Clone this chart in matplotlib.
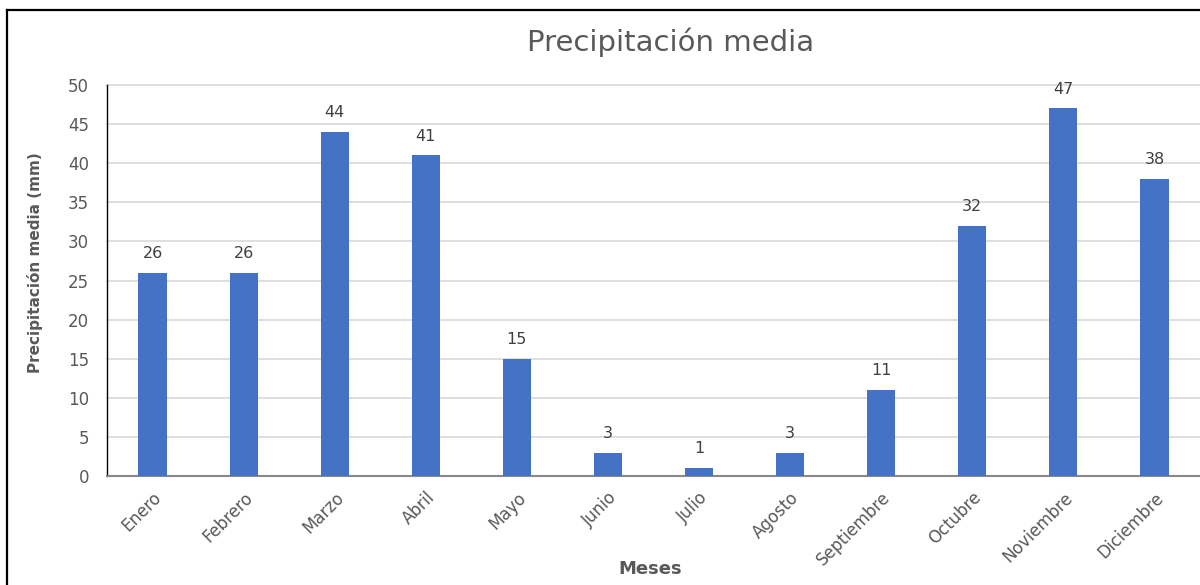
import matplotlib.pyplot as plt
from matplotlib.lines import Line2D

meses = ["Enero", "Febrero", "Marzo", "Abril", "Mayo", "Junio", "Julio",
         "Agosto", "Septiembre", "Octubre", "Noviembre", "Diciembre"]
precip = [26, 26, 44, 41, 15, 3, 1, 3, 11, 32, 47, 38]
yticks = [0, 5, 10, 15, 20, 25, 30, 35, 40, 45, 50]

plt.rcParams['font.family'] = ['DejaVu Sans']

fig = plt.figure(figsize=(12, 5.85), dpi=100)
ax = fig.add_axes([107 / 1200, 1 - 476 / 585, 1 - 107 / 1200, (476 - 85) / 585])

x = range(len(meses))
bars = ax.bar(x, precip, width=0.31, color="#4472C4", zorder=3)
for xi, v in zip(x, precip):
    ax.text(xi, v + 1.5, str(v), ha="center", va="bottom", fontsize=11.5, color="#404040")

ax.set_xlim(-0.5, len(meses) - 0.5)
ax.set_ylim(0, 50)
ax.set_yticks(yticks)
ax.grid(axis="y", color="#D9D9D9", linewidth=1.2, zorder=0)
for gl in ax.get_ygridlines():
    gl.set_clip_on(False)
ax.tick_params(axis="both", length=0, labelsize=12, labelcolor="#595959")
ax.tick_params(axis="y", pad=13)
ax.tick_params(axis="x", pad=9)
ax.set_xticks(list(x))
ax.set_xticklabels(meses, rotation=45, ha="right", rotation_mode="anchor")

for s in ["top", "right"]:
    ax.spines[s].set_visible(False)
ax.spines["left"].set_color("black")
ax.spines["left"].set_linewidth(1.0)
ax.spines["bottom"].set_color("#898989")
ax.spines["bottom"].set_linewidth(1.5)

fig.text(35 / 1200, 1 - 263 / 585, "Precipitación media (mm)", ha="center", va="center",
         rotation=90, fontsize=11, fontweight="bold", color="#595959")
fig.text(650 / 1200, 1 - 569 / 585, "Meses", ha="center", va="center", fontsize=13,
         fontweight="bold", color="#595959")
fig.text(671 / 1200, 1 - 42 / 585, "Precipitación media", ha="center", va="center",
         fontsize=21, color="#595959")

# marco del grafico (solo borde izquierdo y superior visibles)
bx, by = 7 / 1200, 1 - 10 / 585
fig.lines.append(Line2D([bx, bx], [0, by], transform=fig.transFigure, color="black", linewidth=1.6))
fig.lines.append(Line2D([bx, 1], [by, by], transform=fig.transFigure, color="black", linewidth=1.6))

fig.savefig("out.png", dpi=100)
